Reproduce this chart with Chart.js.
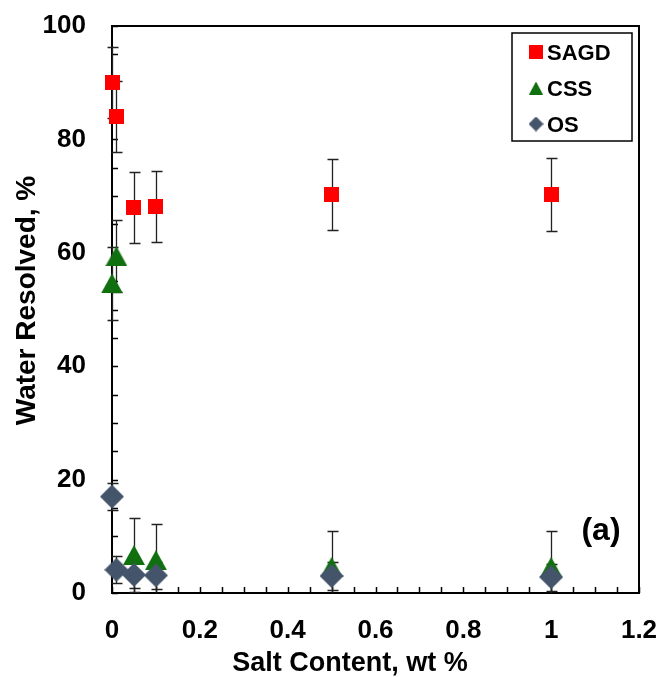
<!DOCTYPE html>
<html>
<head>
<meta charset="utf-8">
<script src="https://cdn.jsdelivr.net/npm/chart.js@4.4.1/dist/chart.umd.min.js"></script>
<style>
  html, body { margin: 0; padding: 0; background: #ffffff; }
  canvas { display: block; }
</style>
</head>
<body>
<canvas id="salt-chart" width="660" height="677"></canvas>
<script>
const FONT = "'Liberation Sans', Arial, sans-serif";

const saltContent = [0, 0.01, 0.05, 0.1, 0.5, 1];
const seriesNames = ["SAGD", "CSS", "OS"];
const sagdValues = [90, 84, 68, 68.2, 70.3, 70.3];
const cssValues = [54.6, 59.4, 6.7, 5.8, 4.6, 4.6];
const osValues = [17, 4.1, 3.2, 3.1, 3.0, 2.8];
const sagdErrors = [6.3, 6.3, 6.3, 6.3, 6.3, 6.4];
const cssErrors = [6.4, 6.4, 6.6, 6.3, 6.4, 6.4];
const osErrors = [2.4, 2.4, 2.4, 2.4, 2.4, 2.4];
const xTickLabels = ["0", "0.2", "0.4", "0.6", "0.8", "1", "1.2"];
const yTickLabels = ["0", "20", "40", "60", "80", "100"];
const xTitle = "Salt Content, wt %";
const yTitle = "Water Resolved, %";
const panelTag = "(a)";

const seriesColors = ["#ff0000", "#107010", "#44546a"];

// marker images so the shapes sit centred like the spreadsheet ones
function makeMarker(shape, w, h, color) {
  const c = document.createElement("canvas");
  c.width = w;
  c.height = h;
  const ctx = c.getContext("2d");
  ctx.fillStyle = color;
  ctx.beginPath();
  if (shape === "square") {
    ctx.rect(0, 0, w, h);
  } else if (shape === "triangle") {
    ctx.moveTo(w / 2, 0);
    ctx.lineTo(w, h);
    ctx.lineTo(0, h);
  } else {
    ctx.moveTo(w / 2, 0);
    ctx.lineTo(w, h / 2);
    ctx.lineTo(w / 2, h);
    ctx.lineTo(0, h / 2);
  }
  ctx.closePath();
  ctx.fill();
  return c;
}

const markers = [
  makeMarker("square", 15, 15, seriesColors[0]),
  makeMarker("triangle", 22, 20, seriesColors[1]),
  makeMarker("diamond", 24, 24, seriesColors[2]),
];
const legendMarkers = [
  makeMarker("square", 14, 14, seriesColors[0]),
  makeMarker("triangle", 14, 13, seriesColors[1]),
  makeMarker("diamond", 15, 15, seriesColors[2]),
];

function toPoints(values) {
  return values.map((v, i) => ({ x: saltContent[i], y: v }));
}

const allValues = [sagdValues, cssValues, osValues];
const allErrors = [sagdErrors, cssErrors, osErrors];

// frame and inward tick marks, under the markers
const framePlugin = {
  id: "frame",
  beforeDatasetsDraw(chart) {
    const { ctx, chartArea: a, scales } = chart;
    ctx.save();
    ctx.strokeStyle = "#000";
    ctx.lineWidth = 1.5;
    ctx.beginPath();
    scales.x.ticks.forEach((t) => {
      const px = Math.round(scales.x.getPixelForValue(t.value)) + 0.5;
      ctx.moveTo(px, a.bottom);
      ctx.lineTo(px, a.bottom - 6);
    });
    scales.y.ticks.forEach((t) => {
      const py = Math.round(scales.y.getPixelForValue(t.value)) + 0.5;
      ctx.moveTo(a.left, py);
      ctx.lineTo(a.left + 6, py);
    });
    ctx.stroke();
    ctx.lineWidth = 2;
    ctx.strokeRect(a.left, a.top, a.right - a.left, a.bottom - a.top);
    ctx.restore();
  },
};

const errorBarPlugin = {
  id: "errorBars",
  beforeDatasetsDraw(chart) {
    const { ctx, chartArea: a, scales } = chart;
    ctx.save();
    ctx.beginPath();
    ctx.rect(a.left - 20, a.top, a.right - a.left + 40, a.bottom - a.top);
    ctx.clip();
    ctx.strokeStyle = "#222";
    ctx.lineWidth = 1.3;
    allValues.forEach((values, s) => {
      values.forEach((v, i) => {
        const err = allErrors[s][i];
        const px = Math.round(scales.x.getPixelForValue(saltContent[i])) + 0.5;
        const hi = Math.round(scales.y.getPixelForValue(v + err)) + 0.5;
        const lo = Math.round(scales.y.getPixelForValue(v - err)) + 0.5;
        ctx.beginPath();
        ctx.moveTo(px, hi);
        ctx.lineTo(px, lo);
        ctx.moveTo(px - 5, hi);
        ctx.lineTo(px + 6, hi);
        if (v - err >= 0) {
          ctx.moveTo(px - 5, lo);
          ctx.lineTo(px + 6, lo);
        }
        ctx.stroke();
      });
    });
    ctx.restore();
  },
};

// boxed legend inside the plot, axis titles and the panel tag
const annotationsPlugin = {
  id: "annotations",
  afterDraw(chart) {
    const { ctx, chartArea: a } = chart;
    const right = a.right - 7;
    const left = right - 120;
    const top = a.top + 7;
    ctx.save();
    ctx.strokeStyle = "#000";
    ctx.lineWidth = 1.5;
    ctx.strokeRect(left, top, right - left, 108);
    ctx.font = "bold 22px " + FONT;
    ctx.fillStyle = "#000";
    ctx.textBaseline = "alphabetic";
    chart.data.datasets.forEach((ds, i) => {
      const cy = top + 19 + i * 36;
      const m = legendMarkers[i];
      ctx.drawImage(m, left + 24 - m.width / 2, cy - m.height / 2);
      ctx.fillText(ds.label, left + 35, cy + 8);
    });

    ctx.font = "bold 32px " + FONT;
    ctx.textAlign = "center";
    ctx.fillText(panelTag, a.right - 38, a.bottom - 53);

    ctx.font = "bold 27px " + FONT;
    ctx.fillText(xTitle, a.left + 238, a.bottom + 78);

    ctx.font = "bold 28px " + FONT;
    ctx.translate(35, (a.top + a.bottom) / 2 - 9);
    ctx.rotate(-Math.PI / 2);
    ctx.fillText(yTitle, 0, 0);
    ctx.restore();
  },
};

const options = {
  type: "scatter",
  data: {
    datasets: seriesNames.map((name, i) => ({
      label: name,
      data: toPoints(allValues[i]),
      pointStyle: markers[i],
      backgroundColor: seriesColors[i],
      borderColor: seriesColors[i],
      clip: false,
      order: 2 - i,
    })),
  },
  options: {
    responsive: false,
    animation: false,
    layout: { padding: { top: 26, right: 21, left: 0, bottom: 0 } },
    plugins: {
      legend: { display: false },
      tooltip: { enabled: false },
    },
    scales: {
      x: {
        type: "linear",
        min: 0,
        max: 1.2,
        grid: { display: false },
        border: { display: false },
        ticks: {
          stepSize: 0.05,
          autoSkip: false,
          maxRotation: 0,
          padding: 14,
          color: "#000",
          font: { family: FONT, size: 26, weight: "bold" },
          callback: (v) => {
            const k = Math.round(v * 20);
            return k % 4 === 0 ? xTickLabels[k / 4] : "";
          },
        },
        afterFit: (scale) => {
          scale.height = 84;
          scale.paddingLeft = 0;
          scale.paddingRight = 0;
        },
      },
      y: {
        type: "linear",
        min: 0,
        max: 100,
        grid: { display: false },
        border: { display: false },
        ticks: {
          stepSize: 5,
          autoSkip: false,
          padding: 18,
          color: "#000",
          font: { family: FONT, size: 26, weight: "bold" },
          callback: (v) => {
            const k = Math.round(v / 5);
            return k % 4 === 0 ? yTickLabels[k / 4] : "";
          },
        },
        afterFit: (scale) => {
          scale.width = 112;
          scale.paddingTop = 0;
          scale.paddingBottom = 0;
        },
      },
    },
  },
  plugins: [framePlugin, errorBarPlugin, annotationsPlugin],
};

new Chart(document.querySelector("#salt-chart"), options);
</script>
</body>
</html>
